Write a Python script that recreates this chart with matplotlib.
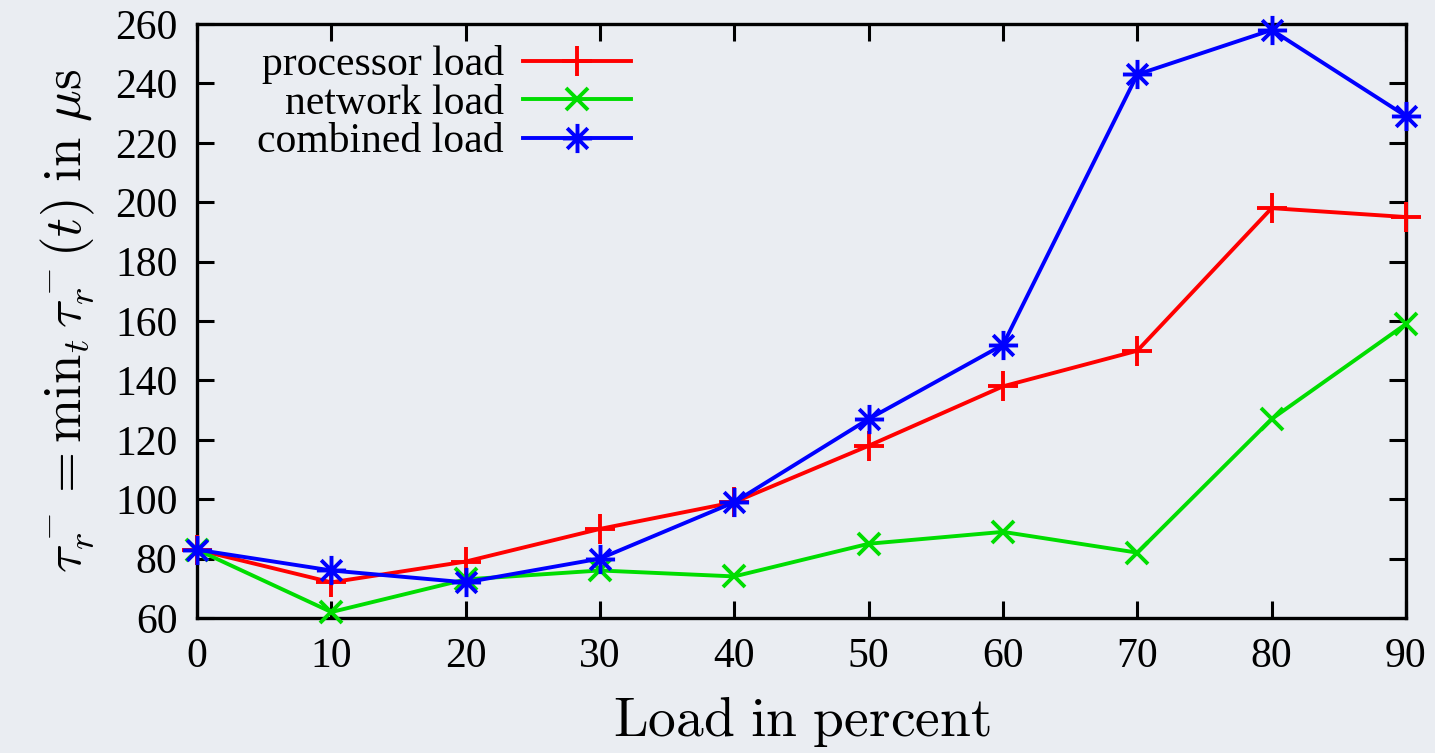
import matplotlib.pyplot as plt
from matplotlib.path import Path
import numpy as np

# data
load_pct = [0, 10, 20, 30, 40, 50, 60, 70, 80, 90]
processor = [83, 72, 79, 90, 99, 118, 138, 150, 198, 195]
network = [83, 62, 73, 76, 74, 85, 89, 82, 127, 159]
combined = [83, 76, 72, 80, 99, 127, 152, 243, 258, 229]

xticks = [0, 10, 20, 30, 40, 50, 60, 70, 80, 90]
yticks = [60, 80, 100, 120, 140, 160, 180, 200, 220, 240, 260]

# gnuplot style asterisk (+ and x overlaid)
_d = 0.7071
asterisk = Path(
    [(0, -1), (0, 1), (-1, 0), (1, 0), (-_d, -_d), (_d, _d), (-_d, _d), (_d, -_d)],
    [Path.MOVETO, Path.LINETO] * 4,
)

plt.rcParams['font.family'] = ['Liberation Serif', 'DejaVu Serif']
plt.rcParams['mathtext.fontset'] = 'cm'

fig = plt.figure(figsize=(14.35, 7.53), dpi=100, facecolor='#eaedf2')
ax = fig.add_axes([197/1435, 1-618/753, (1406-197)/1435, (618-24)/753])
ax.set_facecolor('none')

lw = 2.8
ms = 21
ax.plot(load_pct, processor, '-', color='#ff0000', lw=lw, marker='+', ms=ms,
        mew=lw, clip_on=False, label='processor load', zorder=3)
ax.plot(load_pct, network, '-', color='#00dd00', lw=lw, marker='x', ms=ms*0.75,
        mew=lw, clip_on=False, label='network load', zorder=3)
ax.plot(load_pct, combined, '-', color='#0000ff', lw=lw, marker=asterisk, ms=ms,
        mew=lw, clip_on=False, label='combined load', zorder=4)

ax.set_xlim(0, 90)
ax.set_ylim(60, 260)
ax.set_xticks(xticks)
ax.set_yticks(yticks)
ax.tick_params(direction='in', length=12, width=2.2, top=True, right=True,
               labelsize=30, color='black')
ax.tick_params(axis='x', pad=14)
ax.tick_params(axis='y', pad=14)
for s in ax.spines.values():
    s.set_linewidth(2.4)

ax.set_xlabel(r'$\mathrm{Load\ in\ percent}$', fontsize=40, labelpad=13)
ax.set_ylabel(r'$\tau_r^- = \mathrm{min}_t\, \tau_r^-(t)\ \mathrm{in}\ \mu\mathrm{s}$',
              fontsize=38, labelpad=14)

leg = ax.legend(loc='upper left', bbox_to_anchor=(0.019, 1.027), frameon=False,
                markerfirst=False, fontsize=30, handlelength=2.6,
                labelspacing=0.0, handletextpad=0.45)
for t in leg.get_texts():
    t.set_ha('right')
leg._legend_box.align = 'right'

fig.savefig('out.png', dpi=100, facecolor=fig.get_facecolor())
